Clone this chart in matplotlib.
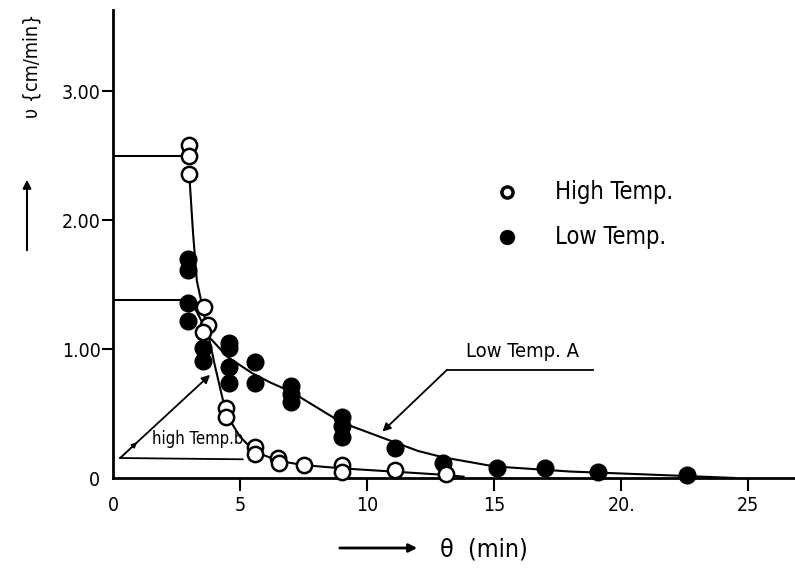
import matplotlib
matplotlib.use("Agg")
import matplotlib.pyplot as plt
import matplotlib.patches as mpatches

plt.rcParams['font.family'] = ['DejaVu Sans']
plt.rcParams['font.stretch'] = 'condensed'

# ---- data ----
high_x = [3.0, 3.0, 3.0, 3.6, 3.75, 3.55, 4.45, 4.45, 5.6, 5.6, 6.5, 6.55, 7.5, 9.0, 9.0, 11.1, 13.1]
high_y = [2.58, 2.50, 2.36, 1.33, 1.19, 1.13, 0.54, 0.47, 0.24, 0.19, 0.155, 0.12, 0.10, 0.10, 0.05, 0.06, 0.03]

low_x = [2.95, 2.95, 2.95, 2.95, 3.55, 3.55, 4.55, 4.55, 4.55, 4.55, 5.6, 5.6,
         7.0, 7.0, 7.0, 9.0, 9.0, 9.0, 11.1, 13.0, 15.1, 17.0, 19.1, 22.6]
low_y = [1.70, 1.61, 1.36, 1.22, 1.01, 0.91, 1.05, 1.01, 0.86, 0.74, 0.90, 0.74,
         0.71, 0.65, 0.59, 0.47, 0.40, 0.32, 0.23, 0.12, 0.08, 0.08, 0.05, 0.025]

curve_b_x = [3.0, 3.15, 3.3, 3.7, 4.0, 4.45, 4.75, 5.0, 5.6, 6.6, 7.5, 9.0, 11.0, 13.0, 13.8]
curve_b_y = [2.36, 1.90, 1.53, 1.16, 0.88, 0.50, 0.40, 0.32, 0.20, 0.13, 0.10, 0.075, 0.05, 0.025, 0.01]

curve_a_x = [3.1, 3.4, 3.8, 4.5, 5.5, 6.2, 7.0, 8.0, 9.0, 10.5, 12.0, 13.0, 15.0, 18.0, 20.0, 22.6, 24.5]
curve_a_y = [1.36, 1.25, 1.09, 0.94, 0.81, 0.74, 0.67, 0.55, 0.43, 0.32, 0.21, 0.16, 0.09, 0.05, 0.035, 0.015, 0.0]

x_ticks = [0, 5, 10, 15, 20, 25]
x_labels = ['0', '5', '10', '15', '20.', '25']
y_ticks = [0, 1, 2, 3]
y_labels = ['0', '1.00', '2.00', '3.00']

# ---- figure ----
fig = plt.figure(figsize=(7.95, 5.70), dpi=100)
ax = fig.add_axes([113/795, 92/570, 681/795, 468/570])
ax.set_xlim(0, 26.8)
ax.set_ylim(0, 3.63)

for s in ['top', 'right']:
    ax.spines[s].set_visible(False)
for s in ['left', 'bottom']:
    ax.spines[s].set_linewidth(2)

ax.set_xticks(x_ticks)
ax.set_xticklabels(x_labels, fontsize=14)
ax.set_yticks(y_ticks)
ax.set_yticklabels(y_labels, fontsize=14)
ax.tick_params(axis='x', length=9, width=1.5, pad=4)
ax.tick_params(axis='y', length=8, width=1.5, pad=1)
ax.xaxis.get_major_ticks()[0].tick1line.set_visible(False)
ax.yaxis.get_major_ticks()[0].tick1line.set_visible(False)

# reference horizontal lines
ax.plot([0, 2.9], [2.50, 2.50], color='black', lw=1.5)
ax.plot([0, 2.9], [1.38, 1.38], color='black', lw=1.5)

# curves
ax.plot(curve_b_x, curve_b_y, color='black', lw=1.5, zorder=3)
ax.plot(curve_a_x, curve_a_y, color='black', lw=1.5, zorder=3)

# points
ax.plot(low_x, low_y, 'o', ms=12, color='black', clip_on=False, zorder=4)
ax.plot(high_x, high_y, 'o', ms=11, mfc='white', mec='black', mew=1.8,
        clip_on=False, zorder=5)

# legend
ax.plot([15.5], [2.22], 'o', ms=8, mfc='white', mec='black', mew=2.5)
ax.plot([15.5], [1.87], 'o', ms=10, color='black')
ax.text(17.4, 2.22, 'High Temp.', fontsize=17, va='center', ha='left')
ax.text(17.4, 1.87, 'Low Temp.', fontsize=17, va='center', ha='left')

# annotation Low Temp. A
ax.text(13.9, 0.98, 'Low Temp. A', fontsize=14.5, va='center', ha='left')
ax.plot([13.15, 18.9], [0.84, 0.84], color='black', lw=1.3)
ax.annotate('', xy=(10.6, 0.36), xytext=(13.15, 0.84),
            arrowprops=dict(arrowstyle='-|>', color='black', lw=1.3,
                            mutation_scale=12, shrinkA=0, shrinkB=0))

# annotation high Temp. b
ax.text(1.55, 0.30, 'high Temp.b', fontsize=12, va='center', ha='left')
ax.plot([0.28, 5.1], [0.155, 0.145], color='black', lw=1.3)
ax.annotate('', xy=(3.82, 0.80), xytext=(0.28, 0.155),
            arrowprops=dict(arrowstyle='-|>', color='black', lw=1.3,
                            mutation_scale=12, shrinkA=0, shrinkB=0))
ax.annotate('', xy=(0.95, 0.277), xytext=(0.28, 0.155),
            arrowprops=dict(arrowstyle='-|>', color='black', lw=1.0,
                            mutation_scale=8, shrinkA=0, shrinkB=0))

# axis labels with arrows (figure coordinates)
fig.text(32/795, 1 - 66/570, 'υ {cm/min}', rotation=90, fontsize=14,
         ha='center', va='center')
fig.add_artist(mpatches.FancyArrowPatch(
    (27/795, 1 - 253/570), (27/795, 1 - 177/570), transform=fig.transFigure,
    arrowstyle='-|>', mutation_scale=12, color='black', lw=1.5))
fig.text(440/795, 1 - 550/570, 'θ  (min)', fontsize=18, ha='left', va='center')
fig.add_artist(mpatches.FancyArrowPatch(
    (337/795, 1 - 548/570), (420/795, 1 - 548/570), transform=fig.transFigure,
    arrowstyle='-|>', mutation_scale=12, color='black', lw=2))

fig.savefig('out.png', dpi=100)
